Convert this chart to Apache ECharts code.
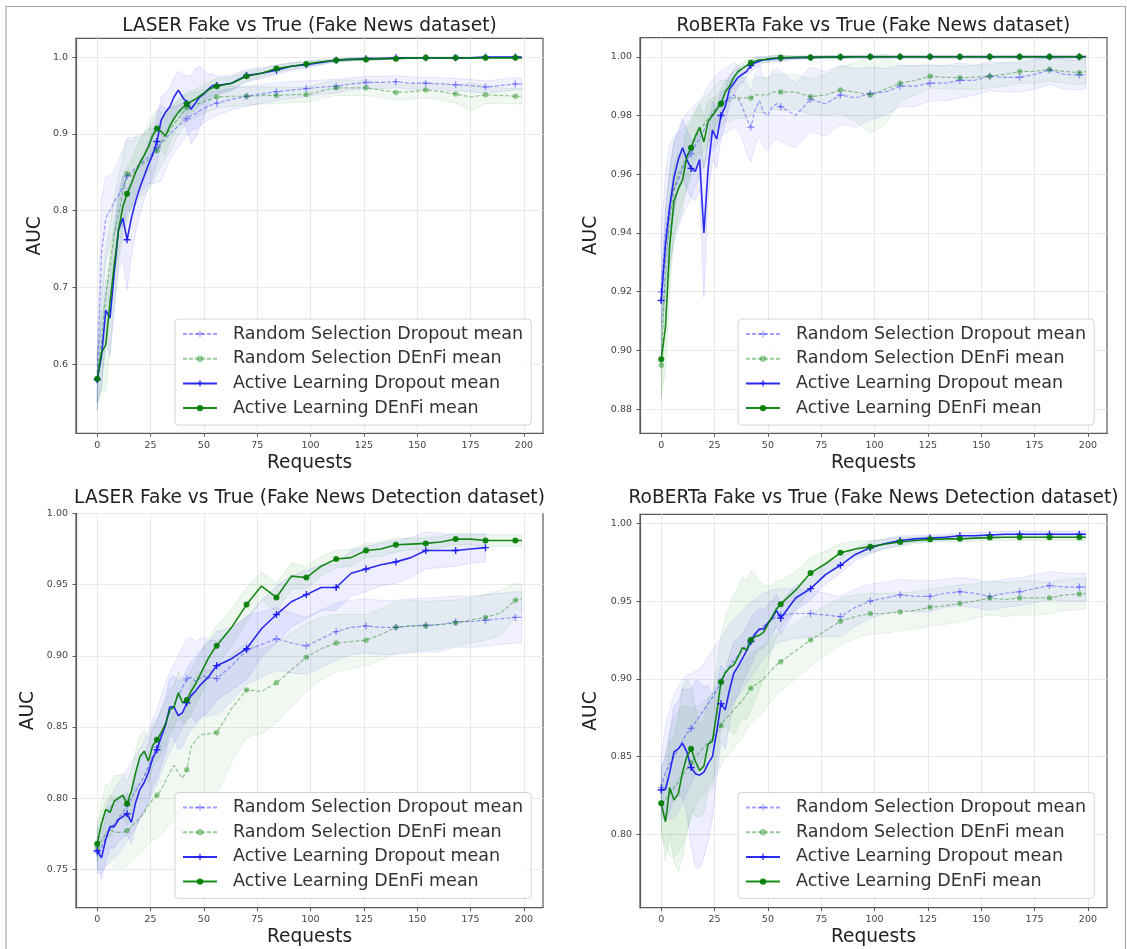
<!DOCTYPE html>
<html>
<head>
<meta charset="utf-8">
<script src="https://cdn.jsdelivr.net/npm/echarts@6/dist/echarts.min.js"></script>
<style>
  html, body { margin: 0; padding: 0; background: #ffffff; }
  #chart { width: 1127px; height: 949px; }
</style>
</head>
<body>
<div id="chart"></div>
<script>
// Number of labelled requests at each evaluation step
const requests = [0,2,4,6,8,10,12,14,16,18,20,22,24,26,28,30,32,34,36,38,40,42,44,46,48,50,52,54,56,
  63,70,77,84,91,98,105,112,119,126,133,140,147,154,161,168,175,182,189,196,199];

// Axis tick values
const requestTicks = [0,25,50,75,100,125,150,175,200];
const laserNewsTicks = [0.6,0.7,0.8,0.9,1.0];
const robertaNewsTicks = [0.88,0.90,0.92,0.94,0.96,0.98,1.00];
const laserDetectTicks = [0.75,0.80,0.85,0.90,0.95,1.00];
const robertaDetectTicks = [0.80,0.85,0.90,0.95,1.00];

// ---- LASER, Fake News dataset ----
const laserNewsRandDropMean = [0.580,0.745,0.790,0.800,0.812,0.820,0.830,0.845,0.850,0.856,0.860,0.865,0.870,0.875,0.882,0.888,0.893,0.900,0.905,0.910,0.915,0.920,0.924,0.926,0.930,0.933,0.936,0.938,0.940,
  0.945,0.949,0.952,0.955,0.957,0.959,0.961,0.962,0.965,0.967,0.967,0.968,0.966,0.966,0.965,0.964,0.963,0.961,0.963,0.965,0.965];
const laserNewsRandDropStd = [0.040,0.070,0.055,0.045,0.040,0.045,0.050,0.050,0.045,0.040,0.035,0.035,0.035,0.040,0.045,0.050,0.040,0.035,0.030,0.028,0.025,0.022,0.020,0.020,0.020,0.018,0.018,0.017,0.016,
  0.014,0.013,0.012,0.012,0.011,0.010,0.009,0.009,0.008,0.008,0.008,0.008,0.008,0.008,0.008,0.008,0.008,0.008,0.008,0.008,0.008];
const laserNewsRandDenMean = [0.580,0.630,0.690,0.730,0.770,0.795,0.825,0.848,0.845,0.852,0.858,0.862,0.866,0.872,0.878,0.888,0.898,0.905,0.913,0.920,0.927,0.934,0.936,0.938,0.940,0.942,0.944,0.946,0.948,
  0.949,0.949,0.950,0.950,0.951,0.951,0.956,0.960,0.960,0.960,0.957,0.954,0.955,0.957,0.955,0.952,0.948,0.951,0.950,0.949,0.949];
const laserNewsRandDenStd = [0.040,0.060,0.060,0.050,0.050,0.050,0.045,0.045,0.045,0.045,0.040,0.040,0.040,0.035,0.030,0.030,0.030,0.030,0.025,0.022,0.020,0.018,0.017,0.016,0.016,0.015,0.015,0.015,0.015,
  0.013,0.012,0.011,0.011,0.010,0.010,0.010,0.010,0.010,0.010,0.010,0.010,0.010,0.010,0.011,0.012,0.018,0.012,0.010,0.010,0.010];
const laserNewsActDropMean = [0.580,0.610,0.670,0.660,0.720,0.775,0.790,0.762,0.790,0.812,0.830,0.845,0.860,0.873,0.890,0.918,0.928,0.935,0.948,0.957,0.948,0.940,0.932,0.940,0.948,0.952,0.958,0.963,0.963,
  0.966,0.976,0.979,0.983,0.988,0.990,0.993,0.996,0.997,0.998,0.998,0.999,0.999,0.999,0.999,0.999,0.999,1.000,1.000,1.000,1.000];
const laserNewsActDropStd = [0.030,0.040,0.040,0.050,0.050,0.050,0.055,0.065,0.050,0.040,0.035,0.030,0.030,0.030,0.030,0.030,0.025,0.025,0.025,0.025,0.030,0.035,0.045,0.045,0.040,0.030,0.020,0.015,0.012,
  0.010,0.008,0.007,0.006,0.005,0.004,0.003,0.002,0.002,0.002,0.002,0.001,0.001,0.001,0.001,0.001,0.001,0.001,0.001,0.001,0.001];
const laserNewsActDenMean = [0.581,0.615,0.625,0.680,0.730,0.775,0.805,0.822,0.835,0.850,0.862,0.872,0.883,0.898,0.907,0.903,0.897,0.910,0.920,0.928,0.934,0.939,0.942,0.945,0.949,0.953,0.957,0.960,0.962,
  0.966,0.975,0.979,0.985,0.988,0.991,0.994,0.996,0.997,0.997,0.998,0.998,0.999,0.999,0.999,0.999,0.999,0.999,0.999,0.999,0.999];
const laserNewsActDenStd = [0.030,0.050,0.060,0.060,0.050,0.040,0.040,0.035,0.030,0.030,0.030,0.030,0.030,0.025,0.025,0.025,0.025,0.020,0.020,0.018,0.016,0.015,0.014,0.013,0.012,0.011,0.010,0.010,0.010,
  0.008,0.006,0.005,0.005,0.004,0.004,0.003,0.002,0.002,0.002,0.001,0.001,0.001,0.001,0.001,0.001,0.001,0.001,0.001,0.001,0.001];

// ---- RoBERTa, Fake News dataset ----
const robertaNewsRandDropMean = [0.920,0.940,0.950,0.955,0.958,0.962,0.965,0.967,0.970,0.972,0.975,0.978,0.980,0.982,0.984,0.985,0.986,0.987,0.986,0.983,0.979,0.976,0.982,0.985,0.981,0.980,0.983,0.984,0.983,
  0.980,0.9855,0.984,0.987,0.986,0.9875,0.988,0.990,0.990,0.991,0.991,0.992,0.992,0.9934,0.993,0.993,0.994,0.9955,0.994,0.9938,0.994];
const robertaNewsRandDropStd = [0.020,0.020,0.020,0.018,0.016,0.016,0.016,0.015,0.014,0.013,0.012,0.012,0.012,0.012,0.011,0.011,0.011,0.011,0.011,0.011,0.012,0.012,0.012,0.012,0.012,0.012,0.012,0.012,0.012,
  0.011,0.011,0.011,0.010,0.010,0.009,0.008,0.007,0.007,0.006,0.006,0.006,0.005,0.005,0.005,0.005,0.005,0.005,0.005,0.005,0.005];
const robertaNewsRandDenMean = [0.895,0.930,0.945,0.955,0.960,0.963,0.966,0.969,0.972,0.975,0.977,0.979,0.981,0.983,0.984,0.985,0.985,0.986,0.986,0.986,0.986,0.986,0.987,0.987,0.987,0.987,0.988,0.988,0.988,
  0.988,0.9864,0.987,0.9887,0.988,0.987,0.989,0.991,0.992,0.9934,0.993,0.9929,0.993,0.9934,0.994,0.995,0.995,0.9957,0.995,0.9946,0.995];
const robertaNewsRandDenStd = [0.012,0.018,0.018,0.016,0.014,0.012,0.011,0.010,0.010,0.009,0.009,0.008,0.008,0.008,0.008,0.007,0.007,0.007,0.007,0.007,0.007,0.006,0.006,0.006,0.006,0.006,0.006,0.006,0.006,
  0.006,0.006,0.007,0.008,0.010,0.013,0.012,0.006,0.005,0.004,0.004,0.004,0.004,0.004,0.004,0.004,0.004,0.004,0.004,0.004,0.004];
const robertaNewsActDropMean = [0.917,0.936,0.949,0.959,0.965,0.969,0.965,0.962,0.961,0.965,0.940,0.962,0.975,0.972,0.980,0.983,0.989,0.991,0.993,0.994,0.995,0.997,0.998,0.9985,0.999,0.999,0.9993,0.9994,0.9995,
  0.9997,0.9998,0.9999,0.9999,1.000,1.000,1.000,1.000,1.000,1.000,1.000,1.000,1.000,1.000,1.000,1.000,1.000,1.000,1.000,1.000,1.000];
const robertaNewsActDropStd = [0.008,0.012,0.012,0.012,0.010,0.010,0.010,0.010,0.010,0.010,0.022,0.010,0.010,0.010,0.008,0.006,0.005,0.004,0.003,0.003,0.002,0.002,0.002,0.0015,0.001,0.001,0.001,0.001,0.001,
  0.0005,0.0005,0.0005,0.0005,0.0005,0.0005,0.0005,0.0005,0.0005,0.0005,0.0005,0.0005,0.0005,0.0005,0.0005,0.0005,0.0005,0.0005,0.0005,0.0005,0.0005];
const robertaNewsActDenMean = [0.897,0.908,0.936,0.951,0.955,0.958,0.966,0.969,0.973,0.976,0.971,0.978,0.980,0.982,0.984,0.988,0.990,0.993,0.995,0.996,0.997,0.998,0.9985,0.999,0.999,0.9993,0.9995,0.9996,0.9997,
  0.9998,0.9998,0.9999,0.9999,1.000,1.000,1.000,1.000,1.000,1.000,1.000,1.000,1.000,1.000,1.000,1.000,1.000,1.000,1.000,1.000,1.000];
const robertaNewsActDenStd = [0.012,0.015,0.015,0.012,0.012,0.010,0.010,0.008,0.008,0.008,0.008,0.007,0.006,0.005,0.005,0.004,0.003,0.003,0.002,0.002,0.002,0.001,0.001,0.001,0.001,0.001,0.001,0.001,0.001,
  0.0005,0.0005,0.0005,0.0005,0.0005,0.0005,0.0005,0.0005,0.0005,0.0005,0.0005,0.0005,0.0005,0.0005,0.0005,0.0005,0.0005,0.0005,0.0005,0.0005,0.0005];

// ---- LASER, Fake News Detection dataset ----
const laserDetectRandDropMean = [0.762,0.765,0.772,0.778,0.782,0.786,0.790,0.795,0.800,0.805,0.810,0.815,0.822,0.830,0.836,0.845,0.853,0.860,0.866,0.872,0.878,0.884,0.885,0.882,0.884,0.886,0.884,0.885,0.884,
  0.893,0.904,0.908,0.912,0.909,0.907,0.912,0.917,0.920,0.921,0.920,0.920,0.921,0.9215,0.922,0.924,0.924,0.925,0.926,0.927,0.927];
const laserDetectRandDropStd = [0.015,0.018,0.020,0.022,0.024,0.025,0.025,0.025,0.025,0.025,0.025,0.025,0.025,0.026,0.026,0.027,0.028,0.028,0.028,0.028,0.028,0.028,0.028,0.028,0.028,0.027,0.027,0.026,0.026,
  0.025,0.024,0.023,0.022,0.021,0.020,0.020,0.020,0.019,0.019,0.019,0.019,0.019,0.019,0.019,0.018,0.018,0.018,0.018,0.018,0.018];
const laserDetectRandDenMean = [0.765,0.770,0.775,0.778,0.776,0.776,0.776,0.777,0.780,0.783,0.786,0.790,0.795,0.799,0.802,0.806,0.812,0.818,0.823,0.818,0.814,0.820,0.836,0.840,0.844,0.845,0.845,0.846,0.846,
  0.863,0.876,0.875,0.881,0.890,0.899,0.905,0.909,0.910,0.911,0.915,0.920,0.921,0.921,0.922,0.923,0.925,0.927,0.930,0.939,0.940];
const laserDetectRandDenStd = [0.015,0.020,0.022,0.024,0.025,0.025,0.025,0.025,0.025,0.025,0.025,0.026,0.027,0.028,0.030,0.032,0.034,0.036,0.038,0.040,0.042,0.044,0.045,0.045,0.045,0.045,0.045,0.044,0.043,
  0.038,0.033,0.030,0.028,0.026,0.024,0.022,0.020,0.019,0.018,0.018,0.018,0.018,0.017,0.017,0.016,0.016,0.016,0.016,0.012,0.010];
const laserDetectActDropMean = [0.763,0.758,0.771,0.780,0.780,0.785,0.787,0.789,0.783,0.797,0.806,0.811,0.818,0.828,0.834,0.843,0.851,0.864,0.864,0.858,0.860,0.867,0.872,0.875,0.879,0.882,0.885,0.889,0.893,
  0.898,0.905,0.919,0.929,0.938,0.943,0.948,0.948,0.958,0.961,0.964,0.966,0.969,0.974,0.974,0.974,0.975,0.976,null,null,null];
const laserDetectActDropStd = [0.010,0.015,0.015,0.015,0.015,0.015,0.015,0.015,0.015,0.018,0.020,0.020,0.020,0.020,0.020,0.020,0.020,0.020,0.022,0.024,0.024,0.024,0.024,0.024,0.024,0.024,0.024,0.024,0.024,
  0.022,0.022,0.020,0.020,0.018,0.017,0.016,0.016,0.016,0.016,0.015,0.015,0.014,0.013,0.012,0.011,0.010,0.010,null,null,null];
const laserDetectActDenMean = [0.768,0.782,0.792,0.790,0.798,0.800,0.802,0.796,0.805,0.818,0.829,0.833,0.826,0.837,0.841,0.846,0.852,0.862,0.864,0.874,0.867,0.869,0.875,0.880,0.886,0.892,0.898,0.903,0.907,
  0.920,0.936,0.949,0.941,0.956,0.955,0.963,0.968,0.969,0.974,0.975,0.978,0.9785,0.979,0.980,0.982,0.982,0.981,0.981,0.981,0.981];
const laserDetectActDenStd = [0.012,0.015,0.018,0.018,0.018,0.016,0.015,0.015,0.015,0.015,0.015,0.015,0.015,0.015,0.015,0.015,0.015,0.015,0.015,0.015,0.015,0.015,0.015,0.015,0.015,0.015,0.014,0.014,0.014,
  0.013,0.012,0.010,0.010,0.009,0.008,0.007,0.006,0.006,0.005,0.005,0.005,0.004,0.004,0.004,0.004,0.004,0.004,0.004,0.004,0.004];

// ---- RoBERTa, Fake News Detection dataset ----
const robertaDetectRandDropMean = [0.830,0.840,0.845,0.850,0.855,0.860,0.865,0.868,0.872,0.876,0.880,0.884,0.888,0.893,0.898,0.903,0.908,0.912,0.915,0.918,0.922,0.925,0.928,0.931,0.934,0.936,0.938,0.940,0.941,
  0.942,0.942,0.941,0.940,0.946,0.950,0.952,0.954,0.953,0.953,0.955,0.956,0.955,0.953,0.955,0.956,0.958,0.960,0.959,0.959,0.959];
const robertaDetectRandDropStd = [0.020,0.030,0.035,0.040,0.040,0.040,0.038,0.035,0.033,0.030,0.030,0.030,0.030,0.030,0.028,0.028,0.027,0.026,0.026,0.025,0.025,0.024,0.023,0.022,0.021,0.020,0.019,0.018,0.017,
  0.016,0.015,0.014,0.013,0.012,0.011,0.010,0.010,0.010,0.010,0.009,0.009,0.009,0.009,0.009,0.009,0.009,0.009,0.009,0.009,0.009];
const robertaDetectRandDenMean = [0.820,0.822,0.826,0.830,0.834,0.838,0.842,0.846,0.850,0.853,0.856,0.859,0.862,0.866,0.870,0.874,0.877,0.880,0.883,0.886,0.890,0.894,0.896,0.898,0.900,0.903,0.906,0.909,0.911,
  0.918,0.925,0.931,0.937,0.940,0.942,0.942,0.943,0.944,0.946,0.947,0.9485,0.950,0.952,0.951,0.952,0.952,0.952,0.954,0.9545,0.955];
const robertaDetectRandDenStd = [0.020,0.030,0.040,0.045,0.045,0.045,0.040,0.035,0.032,0.030,0.030,0.028,0.028,0.027,0.026,0.025,0.025,0.025,0.024,0.024,0.023,0.023,0.022,0.022,0.021,0.020,0.020,0.019,0.019,
  0.018,0.017,0.016,0.015,0.014,0.013,0.013,0.012,0.012,0.012,0.012,0.012,0.011,0.011,0.011,0.011,0.011,0.010,0.010,0.010,0.010];
const robertaDetectActDropMean = [0.8285,0.829,0.840,0.853,0.855,0.8585,0.853,0.843,0.839,0.838,0.840,0.8456,0.850,0.866,0.884,0.880,0.8928,0.9035,0.908,0.913,0.918,0.924,0.929,0.932,0.932,0.936,0.939,0.944,0.939,
  0.952,0.958,0.967,0.973,0.980,0.9843,0.987,0.989,0.990,0.9905,0.991,0.992,0.992,0.9925,0.993,0.993,0.993,0.993,0.993,0.993,0.993];
const robertaDetectActDropStd = [0.015,0.020,0.025,0.030,0.030,0.035,0.040,0.050,0.060,0.060,0.055,0.050,0.040,0.030,0.025,0.025,0.022,0.020,0.018,0.016,0.015,0.015,0.014,0.013,0.012,0.012,0.011,0.010,0.010,
  0.008,0.007,0.006,0.005,0.004,0.004,0.003,0.003,0.002,0.002,0.002,0.002,0.002,0.002,0.002,0.002,0.002,0.002,0.002,0.002,0.002];
const robertaDetectActDenMean = [0.820,0.808,0.830,0.822,0.826,0.840,0.850,0.855,0.847,0.841,0.844,0.858,0.860,0.878,0.898,0.904,0.907,0.909,0.914,0.920,0.9185,0.925,0.927,0.928,0.930,0.935,0.940,0.945,0.948,
  0.957,0.968,0.974,0.981,0.9835,0.985,0.9867,0.988,0.989,0.9897,0.990,0.990,0.9905,0.9908,0.991,0.991,0.991,0.991,0.991,0.991,0.991];
const robertaDetectActDenStd = [0.015,0.025,0.030,0.040,0.050,0.055,0.050,0.040,0.035,0.030,0.030,0.030,0.030,0.030,0.030,0.035,0.040,0.045,0.045,0.045,0.045,0.045,0.040,0.035,0.030,0.025,0.020,0.018,0.015,
  0.012,0.010,0.008,0.006,0.005,0.004,0.003,0.003,0.002,0.002,0.002,0.002,0.002,0.002,0.002,0.002,0.002,0.002,0.002,0.002,0.002];

const seriesNames = ['Random Selection Dropout mean', 'Random Selection DEnFi mean',
                     'Active Learning Dropout mean', 'Active Learning DEnFi mean'];

const FONT = 'DejaVu Sans';
const PLUS = 'path://M4,0H6V4H10V6H6V10H4V6H0V4H4Z';

// Visual style of each curve, in legend order
const curveStyles = [
  { line: 'rgba(0,0,255,0.36)',  band: 'rgba(0,0,255,0.055)', edge: 'rgba(0,0,255,0.11)', dashed: true,  symbol: PLUS,     size: 7, width: 1.2 },
  { line: 'rgba(0,128,0,0.40)',  band: 'rgba(0,128,0,0.055)', edge: 'rgba(0,128,0,0.11)', dashed: true,  symbol: 'circle', size: 5.5, width: 1.2 },
  { line: 'rgba(20,20,240,0.9)', band: 'rgba(0,0,255,0.065)', edge: 'rgba(0,0,255,0.12)', dashed: false, symbol: PLUS,     size: 7, width: 1.6 },
  { line: 'rgba(0,125,0,0.9)',   band: 'rgba(0,128,0,0.065)', edge: 'rgba(0,128,0,0.12)', dashed: false, symbol: 'circle', size: 6, width: 1.6 }
];

const panels = [
  { title: 'LASER Fake vs True (Fake News dataset)', left: 76, top: 38.3, height: 395, yMin: 0.5098, yMax: 1.0245,
    ticks: laserNewsTicks, digits: 1, yNameGap: 31, legendLeft: 175, legendTop: 319, titleTop: 15,
    curves: [[laserNewsRandDropMean, laserNewsRandDropStd], [laserNewsRandDenMean, laserNewsRandDenStd],
             [laserNewsActDropMean, laserNewsActDropStd], [laserNewsActDenMean, laserNewsActDenStd]] },
  { title: 'RoBERTa Fake vs True (Fake News dataset)', left: 640, top: 37.7, height: 395.6, yMin: 0.8718, yMax: 1.0065,
    ticks: robertaNewsTicks, digits: 2, yNameGap: 39, legendLeft: 738, legendTop: 319, titleTop: 15,
    curves: [[robertaNewsRandDropMean, robertaNewsRandDropStd], [robertaNewsRandDenMean, robertaNewsRandDenStd],
             [robertaNewsActDropMean, robertaNewsActDropStd], [robertaNewsActDenMean, robertaNewsActDenStd]] },
  { title: 'LASER Fake vs True (Fake News Detection dataset)', left: 76, top: 513.5, height: 394.2, yMin: 0.723, yMax: 1.0,
    ticks: laserDetectTicks, digits: 2, yNameGap: 38, legendLeft: 175, legendTop: 792.5, titleTop: 487,
    curves: [[laserDetectRandDropMean, laserDetectRandDropStd], [laserDetectRandDenMean, laserDetectRandDenStd],
             [laserDetectActDropMean, laserDetectActDropStd], [laserDetectActDenMean, laserDetectActDenStd]] },
  { title: 'RoBERTa Fake vs True (Fake News Detection dataset)', left: 640, top: 514.3, height: 393.4, yMin: 0.7528, yMax: 1.0058,
    ticks: robertaDetectTicks, digits: 2, yNameGap: 39, legendLeft: 738, legendTop: 792.5, titleTop: 487,
    curves: [[robertaDetectRandDropMean, robertaDetectRandDropStd], [robertaDetectRandDenMean, robertaDetectRandDenStd],
             [robertaDetectActDropMean, robertaDetectActDropStd], [robertaDetectActDenMean, robertaDetectActDenStd]] }
];

const GRID_W = 467;

// Shaded mean ± std band, drawn as one polygon through the axis scales
function bandSeries(gi, mean, std, style) {
  const pts = [];
  requests.forEach((x, i) => {
    if (mean[i] != null && std[i] != null) pts.push([x, mean[i] - std[i], mean[i] + std[i]]);
  });
  return {
    type: 'custom', xAxisIndex: gi, yAxisIndex: gi, silent: true, z: 1,
    data: pts, encode: { x: 0, y: [1, 2] },
    renderItem: function (params, api) {
      if (params.dataIndex !== 0) return null;
      const upper = pts.map(p => api.coord([p[0], p[2]]));
      const lower = pts.map(p => api.coord([p[0], p[1]])).reverse();
      return {
        type: 'polygon',
        shape: { points: upper.concat(lower) },
        style: { fill: style.band, stroke: style.edge, lineWidth: 0.8 }
      };
    }
  };
}

function lineSeries(gi, name, mean, style) {
  return {
    type: 'line', name: name, xAxisIndex: gi, yAxisIndex: gi, z: 3,
    data: requests.map((x, i) => [x, mean[i]]),
    connectNulls: false, silent: true,
    showSymbol: true, showAllSymbol: true,
    symbol: style.symbol,
    symbolSize: function (v) { return (v && v[0] % 14 === 0) ? style.size : 0; },
    lineStyle: { color: style.line, width: style.width, type: style.dashed ? [4, 2] : 'solid' },
    itemStyle: { color: style.line }
  };
}

const series = [];
panels.forEach((p, gi) => {
  p.curves.forEach((c, k) => series.push(bandSeries(gi, c[0], c[1], curveStyles[k])));
});
panels.forEach((p, gi) => {
  p.curves.forEach((c, k) => series.push(lineSeries(gi, seriesNames[k], c[0], curveStyles[k])));
});

const option = {
  animation: false,
  backgroundColor: '#ffffff',
  textStyle: { fontFamily: FONT },
  title: panels.map(p => ({
    text: p.title, left: p.left + GRID_W / 2, top: p.titleTop, textAlign: 'center', padding: 0,
    textStyle: { fontFamily: FONT, fontSize: 18.6, fontWeight: 'normal', color: '#222', lineHeight: 22 }
  })),
  grid: panels.map(p => ({
    left: p.left, top: p.top, width: GRID_W, height: p.height,
    show: true, borderColor: '#5a5a5a', borderWidth: 1.2, backgroundColor: 'transparent'
  })),
  xAxis: panels.map((p, gi) => ({
    type: 'value', gridIndex: gi, min: -9.95, max: 208.95,
    name: 'Requests', nameLocation: 'middle', nameGap: 20,
    nameTextStyle: { fontFamily: FONT, fontSize: 18.6, color: '#222' },
    axisLine: { show: true, onZero: false, lineStyle: { color: '#5a5a5a', width: 1.2 } },
    axisTick: { show: true, length: 3.5, lineStyle: { color: '#5a5a5a' }, customValues: requestTicks },
    axisLabel: { customValues: requestTicks, fontFamily: FONT, fontSize: 9.5, color: '#444', margin: 7 },
    splitLine: { show: true, lineStyle: { color: '#e9e9e9', width: 1 } }
  })),
  yAxis: panels.map((p, gi) => ({
    type: 'value', gridIndex: gi, min: p.yMin, max: p.yMax,
    name: 'AUC', nameLocation: 'middle', nameGap: p.yNameGap,
    nameTextStyle: { fontFamily: FONT, fontSize: 18.6, color: '#222' },
    axisLine: { show: true, onZero: false, lineStyle: { color: '#5a5a5a', width: 1.2 } },
    axisTick: { show: true, length: 3.5, lineStyle: { color: '#5a5a5a' }, customValues: p.ticks },
    axisLabel: { customValues: p.ticks, fontFamily: FONT, fontSize: 9.5, color: '#444', margin: 8,
                 formatter: v => v.toFixed(p.digits) },
    splitLine: { show: true, lineStyle: { color: '#e9e9e9', width: 1 } }
  })),
  legend: panels.map(p => ({
    data: seriesNames, orient: 'vertical', left: p.legendLeft, top: p.legendTop,
    itemWidth: 34, itemHeight: 8, itemGap: 4.7, padding: [5, 8, 7, 7],
    backgroundColor: 'rgba(255,255,255,0.8)', borderColor: '#d4d4d4', borderWidth: 1, borderRadius: 4,
    selectedMode: false,
    textStyle: { fontFamily: FONT, fontSize: 17.5, color: '#333', lineHeight: 20, padding: [0, 0, 0, 11] }
  })),
  graphic: [{
    type: 'polyline', silent: true, z: 100,
    shape: { points: [[6, 949], [6, 6.5], [1125.5, 6.5], [1125.5, 949]] },
    style: { stroke: '#a6a6a6', lineWidth: 1.2, fill: null }
  }],
  series: series
};

const chart = echarts.init(document.getElementById('chart'), null, { renderer: 'canvas' });
chart.setOption(option);
</script>
</body>
</html>
